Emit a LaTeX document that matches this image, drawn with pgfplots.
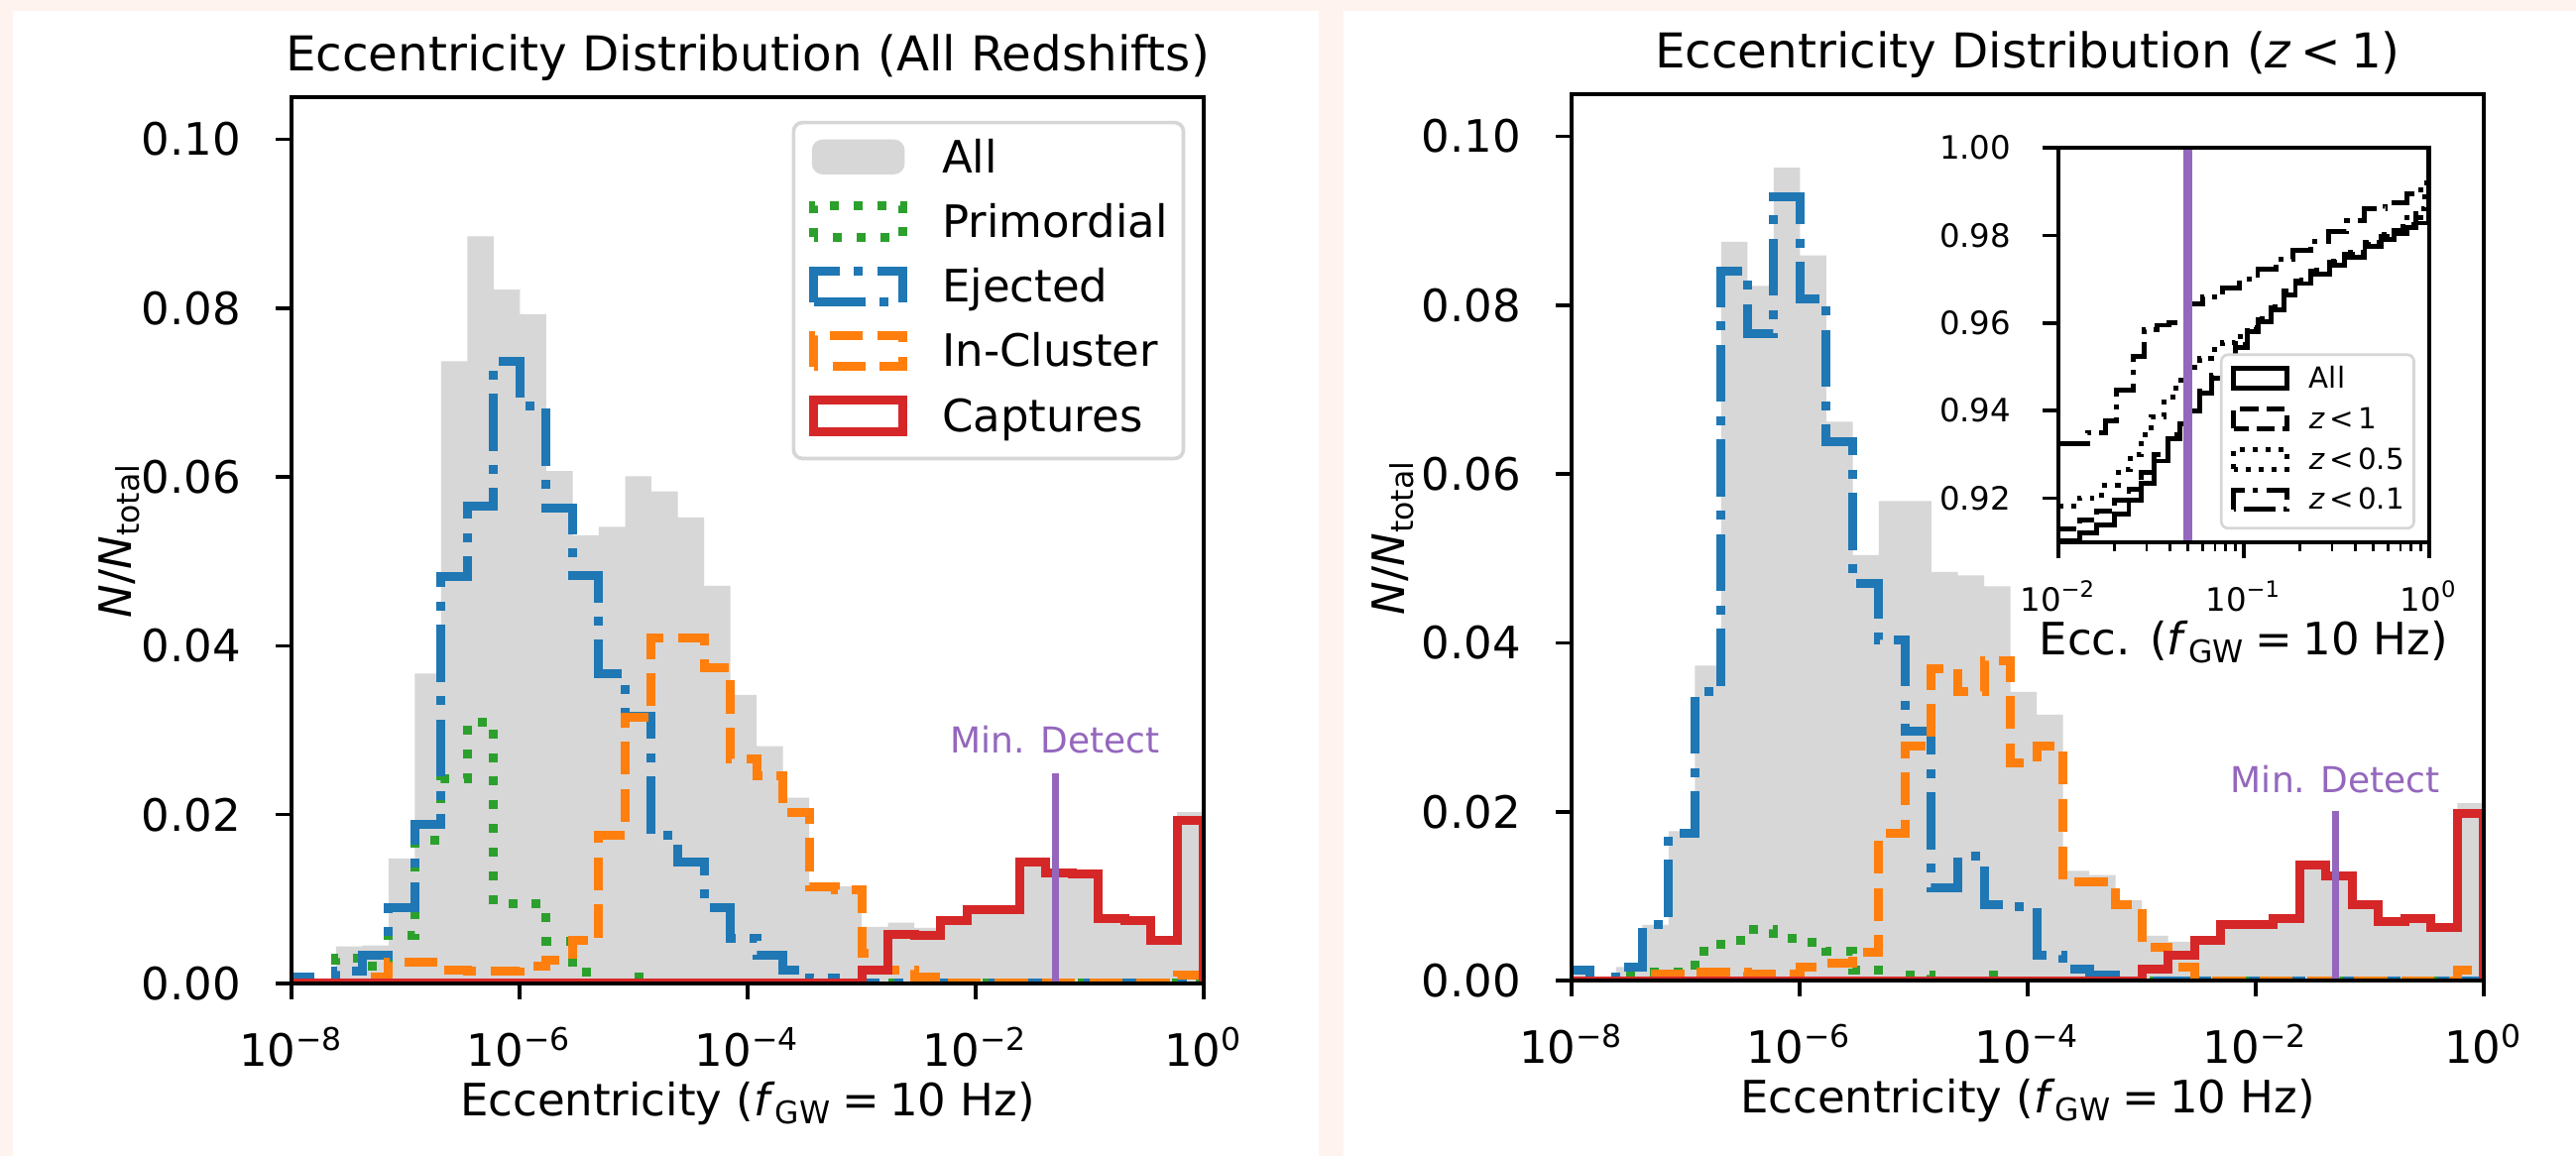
\documentclass[border=0pt]{standalone}
\usepackage{fontspec}
\setmainfont{DejaVu Sans}
\usepackage{pgfplots}
\usepackage{pgfplotstable}
\pgfplotsset{compat=1.18}

\definecolor{tabblue}{HTML}{1F77B4}
\definecolor{taborange}{HTML}{FF7F0E}
\definecolor{tabgreen}{HTML}{2CA02C}
\definecolor{tabred}{HTML}{D62728}
\definecolor{tabpurple}{HTML}{9467BD}
\definecolor{histgray}{HTML}{D7D7D7}
\definecolor{pinkbg}{HTML}{FFF3F0}
\definecolor{leggray}{HTML}{D6D6D6}

\tikzset{
  mdot/.style={dash pattern=on 2pt off 3.3pt},
  mdash/.style={dash pattern=on 7.4pt off 3.2pt},
  mdashdot/.style={dash pattern=on 12.8pt off 3.2pt on 2pt off 3.2pt},
  sdot/.style={dash pattern=on 1.1pt off 1.8pt},
  sdash/.style={dash pattern=on 4.1pt off 1.8pt},
  sdashdot/.style={dash pattern=on 7pt off 1.8pt on 1.1pt off 1.8pt},
}

\pgfplotstableread{
x all prim ejec incl capt
-8.071 0 0 0 0 0
-8.071 0.0008 0 0.0008 0 0
-7.840 0 0 0 0 0
-7.610 0.0044 0.0030 0.0015 0 0
-7.379 0.0045 0.0020 0.0034 0.0008 0
-7.149 0.0148 0.0057 0.0090 0.0025 0
-6.918 0.0367 0.0170 0.0188 0.0025 0
-6.687 0.0737 0.0242 0.0482 0.0016 0
-6.457 0.0885 0.0310 0.0566 0.0015 0
-6.226 0.0822 0.0094 0.0737 0.0015 0
-5.996 0.0793 0.0094 0.0684 0.0020 0
-5.765 0.0607 0.0050 0.0563 0.0028 0
-5.534 0.0531 0.0013 0.0483 0.0051 0
-5.304 0.0541 0 0.0367 0.0175 0
-5.073 0.0601 0.0008 0.0317 0.0315 0
-4.843 0.0583 0 0.0175 0.0409 0
-4.612 0.0552 0 0.0144 0.0409 0
-4.381 0.0471 0 0.0090 0.0374 0
-4.151 0.0342 0 0.0053 0.0266 0
-3.920 0.0281 0 0.0033 0.0246 0
-3.690 0.0220 0 0.0016 0.0202 0
-3.459 0.0120 0 0.0006 0.0114 0
-3.228 0.0115 0 0 0.0111 0
-2.998 0.0067 0 0 0.0036 0.0016
-2.767 0.0072 0 0 0.0016 0.0058
-2.537 0.0066 0 0 0.0008 0.0057
-2.306 0.0076 0 0 0 0.0074
-2.075 0.0088 0 0 0 0.0087
-1.845 0.0088 0 0 0 0.0087
-1.614 0.0145 0 0 0 0.0144
-1.384 0.0132 0 0 0 0.0131
-1.153 0.0131 0 0 0 0.0130
-0.922 0.0078 0 0 0 0.0077
-0.692 0.0075 0 0 0 0.0074
-0.461 0.0052 0 0 0 0.0051
-0.231 0.0203 0 0 0.0010 0.0193
0.000 0.0203 0 0 0.0010 0.0193
0.000 0 0 0 0 0
}\Ltab

\pgfplotstableread{
x all prim ejec incl capt
-8.071 0 0 0 0 0
-8.071 0.0012 0 0.0012 0 0
-7.840 0 0 0 0 0
-7.610 0.0016 0.0010 0.0016 0 0
-7.379 0.0066 0.0010 0.0066 0.0008 0
-7.149 0.0177 0.0010 0.0174 0.0008 0
-6.918 0.0373 0.0035 0.0342 0.0010 0
-6.687 0.0875 0.0048 0.0840 0.0010 0
-6.457 0.0823 0.0060 0.0766 0.0008 0
-6.226 0.0963 0.0050 0.0928 0.0008 0
-5.996 0.0859 0.0045 0.0807 0.0016 0
-5.765 0.0662 0.0035 0.0638 0.0020 0
-5.534 0.0504 0.0012 0.0470 0.0033 0
-5.304 0.0568 0 0.0403 0.0174 0
-5.073 0.0568 0.0007 0.0295 0.0278 0
-4.843 0.0484 0 0.0110 0.0369 0
-4.612 0.0480 0 0.0147 0.0342 0
-4.381 0.0467 0.0006 0.0090 0.0379 0
-4.151 0.0342 0 0.0087 0.0258 0
-3.920 0.0315 0 0.0030 0.0278 0
-3.690 0.0130 0 0.0013 0.0117 0
-3.459 0.0125 0 0.0006 0.0117 0
-3.228 0.0095 0 0 0.0090 0
-2.998 0.0053 0 0 0.0039 0.0013
-2.767 0.0046 0 0 0.0016 0.0030
-2.537 0.0047 0 0 0 0.0047
-2.306 0.0066 0 0 0 0.0066
-2.075 0.0068 0 0 0 0.0066
-1.845 0.0074 0 0 0 0.0073
-1.614 0.0137 0 0 0 0.0137
-1.384 0.0124 0 0 0 0.0124
-1.153 0.0090 0 0 0 0.0090
-0.922 0.0071 0 0 0 0.0070
-0.692 0.0076 0 0 0 0.0074
-0.461 0.0063 0 0 0 0.0063
-0.231 0.0210 0 0 0.0012 0.0198
0.000 0.0210 0 0 0.0012 0.0198
0.000 0 0 0 0 0
}\Rtab

\pgfplotsset{
  mainax/.style={
    scale only axis, width=204.4pt, height=198.67pt,
    xmin=-8, xmax=0, ymin=0, ymax=0.105,
    xtick={-8,-6,-4,-2,0},
    xticklabels={10\textsuperscript{−8},10\textsuperscript{−6},10\textsuperscript{−4},10\textsuperscript{−2},10\textsuperscript{0}},
    ytick={0,0.02,0.04,0.06,0.08,0.10},
    scaled y ticks=false,
    yticklabel style={/pgf/number format/fixed,/pgf/number format/fixed zerofill,/pgf/number format/precision=2,/pgf/number format/assume math mode=true},
    tick pos=left, tick align=outside, major tick length=3.5pt,
    every tick/.style={black, line width=0.8pt},
    axis line style={black, line width=0.8pt},
    tick label style={font=\fontsize{10}{12}\selectfont, inner sep=0pt},
    xticklabel style={anchor=base, yshift=-15.1pt},
    yticklabel style={anchor=east, xshift=-7.6pt},
    label style={font=\fontsize{10}{12}\selectfont},
    every axis title/.style={at={(0.5,1)}, anchor=base, yshift=5.8pt, font=\fontsize{10.75}{13}\selectfont, inner sep=0pt},
    xlabel={Eccentricity (\textit{f}\textsubscript{GW}\hspace{0.22em}=\hspace{0.22em}10 Hz)},
    xlabel style={at={(axis description cs:0.5,0)}, anchor=base, yshift=-29.6pt, inner sep=0pt},
    ylabel={\textit{N}/\textit{N}\textsubscript{total}},
    axis on top,
  },
  hist/.style={const plot, line width=2pt, forget plot},
  rectleg/.style={legend image code/.code={\draw[sharp corners,#1] (0pt,0pt) rectangle (20pt,7pt);}},
  srectleg/.style={legend image code/.code={\draw[sharp corners,black,line width=1.1pt,#1] (0pt,0pt) rectangle (12pt,4.4pt);}},
}

\begin{document}
\begin{tikzpicture}
\path[use as bounding box, fill=pinkbg] (0,0) rectangle (577.33pt,259.11pt);
\fill[white] (2.9pt,0) rectangle (295.6pt,256.7pt);
\fill[white] (301.1pt,0) rectangle (577.33pt,256.7pt);

% ---------------- left panel ----------------
\begin{axis}[mainax,
  at={(65.33pt,38.67pt)}, anchor=south west,
  title={Eccentricity Distribution (All Redshifts)},
  ylabel style={at={(axis description cs:-0.1891,0.5)}, anchor=center},
  legend style={at={(1,1)}, anchor=north east, xshift=-4.1pt, yshift=-5.3pt,
    draw=leggray, line width=0.8pt, rounded corners=2pt, fill=white,
    inner xsep=3.5pt, inner ysep=3.8pt, row sep=4.2pt, column sep=7.8pt,
    font=\fontsize{10}{12}\selectfont,
    nodes={inner sep=0pt, text height=7.3pt, text depth=2.3pt, anchor=base west}},
  legend cell align=left,
]
\addplot[hist, fill=histgray, draw=none] table[x=x,y=all]{\Ltab} \closedcycle;
\addplot[hist, tabgreen, mdot] table[x=x,y=prim]{\Ltab};
\addplot[hist, tabblue, mdashdot] table[x=x,y=ejec]{\Ltab};
\addplot[hist, taborange, mdash] table[x=x,y=incl]{\Ltab};
\addplot[hist, tabred] table[x=x,y=capt]{\Ltab};
\addplot[tabpurple, line width=1.6pt, forget plot] coordinates {(-1.301,0) (-1.301,0.0249)};
\node[text=tabpurple, font=\fontsize{8}{10}\selectfont, anchor=base, inner sep=0pt] at (axis cs:-1.301,0.0273) {Min. Detect};
\addlegendimage{legend image code/.code={\fill[histgray] (0pt,0pt) rectangle (20pt,7pt);}}
\addlegendentry{All}
\addlegendimage{rectleg={tabgreen,line width=2pt,mdot}}
\addlegendentry{Primordial}
\addlegendimage{rectleg={tabblue,line width=2pt,mdashdot}}
\addlegendentry{Ejected}
\addlegendimage{rectleg={taborange,line width=2pt,mdash}}
\addlegendentry{In-Cluster}
\addlegendimage{rectleg={tabred,line width=2pt}}
\addlegendentry{Captures}
\end{axis}

% ---------------- right panel ----------------
\begin{axis}[mainax,
  at={(352.22pt,39.33pt)}, anchor=south west,
  title={Eccentricity Distribution (\textit{z}\hspace{0.2em}<\hspace{0.2em}1)},
  ylabel style={at={(axis description cs:-0.1959,0.5)}, anchor=center},
]
\addplot[hist, fill=histgray, draw=none] table[x=x,y=all]{\Rtab} \closedcycle;
\addplot[hist, tabgreen, mdot] table[x=x,y=prim]{\Rtab};
\addplot[hist, tabblue, mdashdot] table[x=x,y=ejec]{\Rtab};
\addplot[hist, taborange, mdash] table[x=x,y=incl]{\Rtab};
\addplot[hist, tabred] table[x=x,y=capt]{\Rtab};
\addplot[tabpurple, line width=1.6pt, forget plot] coordinates {(-1.301,0) (-1.301,0.0201)};
\node[text=tabpurple, font=\fontsize{8}{10}\selectfont, anchor=base, inner sep=0pt] at (axis cs:-1.301,0.0223) {Min. Detect};
\end{axis}

% ---------------- inset ----------------
\begin{axis}[
  at={(461.3pt,137.6pt)}, anchor=south west, scale only axis, width=83.1pt, height=88.4pt,
  xmode=log, xmin=0.01, xmax=1, ymin=0.91, ymax=1.0,
  xtick={0.01,0.1,1},
  xticklabels={10\textsuperscript{−2},10\textsuperscript{−1},10\textsuperscript{0}},
  minor xtick={0.02,0.03,0.04,0.05,0.06,0.07,0.08,0.09,0.2,0.3,0.4,0.5,0.6,0.7,0.8,0.9},
  ytick={0.92,0.94,0.96,0.98,1.0},
  scaled y ticks=false,
  yticklabel style={/pgf/number format/fixed,/pgf/number format/fixed zerofill,/pgf/number format/precision=2,/pgf/number format/assume math mode=true, anchor=east, xshift=-6.9pt},
  tick pos=left, tick align=outside, major tick length=3.5pt, minor tick length=2pt,
  every tick/.style={black, line width=0.8pt},
  every minor tick/.style={black, line width=0.6pt},
  axis line style={black, line width=0.8pt},
  tick label style={font=\fontsize{7.2}{8.5}\selectfont, inner sep=0pt},
  xticklabel style={anchor=base, yshift=-12pt},
  xlabel={Ecc. (\textit{f}\textsubscript{GW}\hspace{0.22em}=\hspace{0.22em}10 Hz)},
  xlabel style={at={(axis description cs:0.5,0)}, anchor=base, yshift=-25.3pt, font=\fontsize{10}{12}\selectfont, inner sep=0pt},
  axis background/.style={fill=white},
  axis on top,
  legend style={at={(1,0)}, anchor=south east, xshift=-3.1pt, yshift=2.8pt,
    draw=leggray, line width=0.6pt, rounded corners=1.5pt, fill=white,
    inner xsep=2.2pt, inner ysep=2.6pt, row sep=2.5pt, column sep=4.4pt,
    font=\fontsize{6.5}{7.5}\selectfont,
    nodes={inner sep=0pt, text height=4.7pt, text depth=1.6pt, anchor=base west}},
  legend cell align=left,
]
\addplot[const plot, black, line width=1.1pt, forget plot] coordinates {
(0.0100,0.9103) (0.0130,0.9120) (0.0160,0.9140) (0.0200,0.9165) (0.0240,0.9195) (0.0280,0.9235) (0.0330,0.9285) (0.0390,0.9335) (0.0450,0.9370) (0.0500,0.9400) (0.0580,0.9440) (0.0670,0.9475) (0.0770,0.9505) (0.0900,0.9545) (0.1050,0.9580) (0.1200,0.9602) (0.1400,0.9630) (0.1650,0.9665) (0.1900,0.9690) (0.2300,0.9712) (0.2900,0.9731) (0.3500,0.9750) (0.4500,0.9774) (0.5500,0.9790) (0.6500,0.9805) (0.7600,0.9817) (0.8500,0.9828) (0.9950,0.9834) (0.9950,1.0)};
\addplot[const plot, black, line width=1.1pt, sdash, forget plot] coordinates {
(0.0100,0.9130) (0.0130,0.9150) (0.0160,0.9170) (0.0200,0.9195) (0.0240,0.9220) (0.0280,0.9260) (0.0330,0.9300) (0.0390,0.9345) (0.0450,0.9380) (0.0500,0.9410) (0.0580,0.9445) (0.0670,0.9480) (0.0770,0.9510) (0.0900,0.9550) (0.1050,0.9585) (0.1200,0.9607) (0.1400,0.9635) (0.1650,0.9670) (0.1900,0.9695) (0.2300,0.9718) (0.2900,0.9738) (0.3500,0.9757) (0.4500,0.9780) (0.5500,0.9797) (0.6500,0.9812) (0.7600,0.9825) (0.8500,0.9840) (0.9950,0.9850) (0.9950,1.0)};
\addplot[const plot, black, line width=1.1pt, sdot, forget plot] coordinates {
(0.0100,0.9183) (0.0130,0.9200) (0.0172,0.9230) (0.0210,0.9265) (0.0244,0.9300) (0.0280,0.9345) (0.0318,0.9386) (0.0370,0.9430) (0.0430,0.9470) (0.0494,0.9498) (0.0580,0.9520) (0.0670,0.9540) (0.0767,0.9555) (0.0900,0.9570) (0.1050,0.9590) (0.1200,0.9610) (0.1400,0.9638) (0.1650,0.9672) (0.1900,0.9697) (0.2300,0.9720) (0.2900,0.9742) (0.3500,0.9762) (0.4500,0.9785) (0.5500,0.9803) (0.6500,0.9820) (0.7600,0.9840) (0.8500,0.9860) (0.9500,0.9900) (0.9950,0.9905) (0.9950,1.0)};
\addplot[const plot, black, line width=1.1pt, sdashdot, forget plot] coordinates {
(0.0100,0.9325) (0.0144,0.9350) (0.0180,0.9377) (0.0205,0.9446) (0.0255,0.9524) (0.0292,0.9584) (0.0340,0.9595) (0.0397,0.9601) (0.0494,0.9644) (0.0600,0.9660) (0.0767,0.9679) (0.0950,0.9700) (0.1190,0.9722) (0.1500,0.9745) (0.1850,0.9765) (0.2300,0.9787) (0.2880,0.9808) (0.3600,0.9833) (0.4470,0.9860) (0.5800,0.9875) (0.7580,0.9895) (0.9000,0.9920) (0.9950,0.9925) (0.9950,1.0)};
\addplot[tabpurple, line width=2pt, forget plot] coordinates {(0.05,0.91) (0.05,1.0)};
\addlegendimage{srectleg={}}
\addlegendentry{All}
\addlegendimage{srectleg={sdash}}
\addlegendentry{\textit{z}\hspace{0.15em}<\hspace{0.15em}1}
\addlegendimage{srectleg={sdot}}
\addlegendentry{\textit{z}\hspace{0.15em}<\hspace{0.15em}0.5}
\addlegendimage{srectleg={sdashdot}}
\addlegendentry{\textit{z}\hspace{0.15em}<\hspace{0.15em}0.1}
\end{axis}
\end{tikzpicture}
\end{document}
